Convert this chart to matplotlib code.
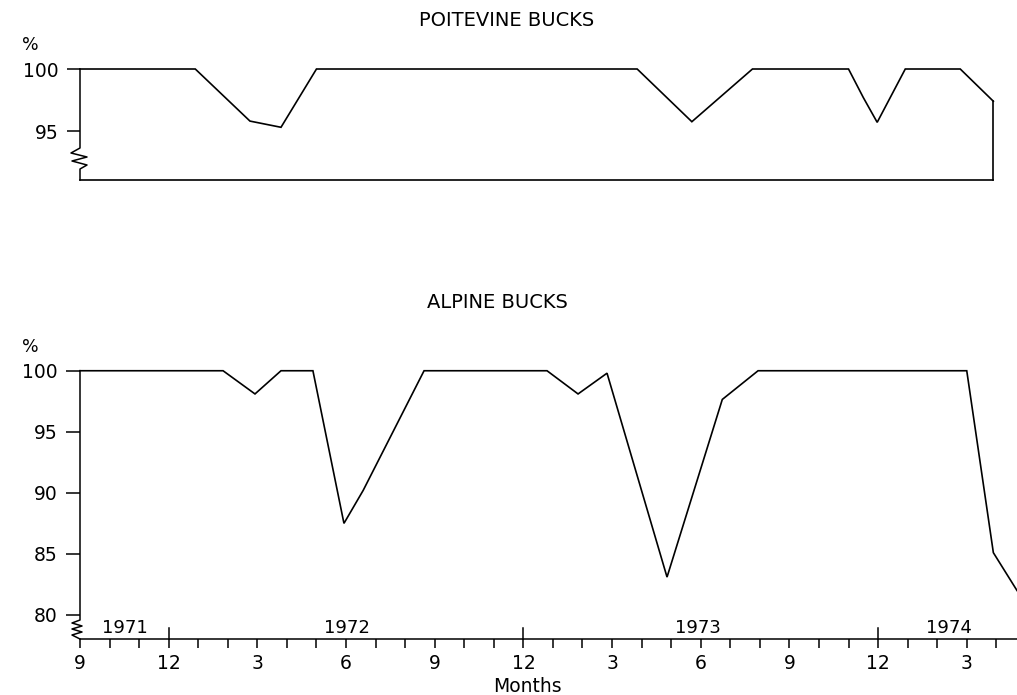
import matplotlib
matplotlib.use("Agg")
import matplotlib.pyplot as plt
import matplotlib.transforms as mtransforms

plt.rcParams['font.family'] = ['DejaVu Sans']

# ---------------- data (months counted from September 1971) ----------------
poitevine_months = [0, 3.9, 5.75, 6.8, 8.0, 18.85, 20.7, 22.75, 26.0, 26.5, 26.97, 27.92, 29.78, 30.9]
poitevine_values = [100, 100, 95.8, 95.3, 100, 100, 95.75, 100, 100, 97.7, 95.7, 100, 100, 97.4]

alpine_months = [0, 4.84, 5.92, 6.8, 7.88, 8.93, 9.58, 11.64, 15.8, 16.85, 17.83, 19.86, 21.73, 22.94, 30.0, 30.9, 31.7]
alpine_values = [100, 100, 98.1, 100, 100, 87.5, 90.2, 100, 100, 98.1, 99.8, 83.1, 97.65, 100, 100, 85.1, 82.0]

month_tick_labels = ['9', '12', '3', '6', '9', '12', '3', '6', '9', '12', '3']
year_labels = ['1971', '1972', '1973', '1974']
year_label_pos = [1.52, 9.04, 20.9, 29.4]

top_yticks = [95, 100]
bottom_yticks = [80, 85, 90, 95, 100]

W, H = 1017, 695
fig = plt.figure(figsize=(W / 100, H / 100), dpi=100)

XMAX = 31.7
LW = 1.2
TICKFS = 13.5


def frac_box(x0, y0, x1, y1):
    """pixel box (top-left origin) -> figure fraction rect"""
    return [x0 / W, (H - y1) / H, (x1 - x0) / W, (y1 - y0) / H]


def px_to_data(ax, pts):
    inv = ax.transData.inverted()
    disp = [(x, H - y) for x, y in pts]
    return inv.transform(disp)


# ---------------- top: Poitevine ----------------
ax1 = fig.add_axes(frac_box(80, 60, W, 180))
ax1.set_xlim(0, XMAX)
ax1.set_ylim(91.05, 100.726)
for s in ax1.spines.values():
    s.set_visible(False)
ax1.set_xticks([])
ax1.set_yticks(top_yticks)
ax1.set_yticklabels([str(v) for v in top_yticks], fontsize=TICKFS)
ax1.tick_params(axis='y', direction='out', length=9.5, width=1.1, pad=6)

ax1.plot(poitevine_months, poitevine_values, color='black', lw=LW, clip_on=False,
         solid_joinstyle='miter')
ymin1 = ax1.get_ylim()[0]
# right closing edge and bottom line
ax1.plot([poitevine_months[-1], poitevine_months[-1]], [poitevine_values[-1], ymin1],
         color='black', lw=LW, clip_on=False)
ax1.plot([0, poitevine_months[-1]], [ymin1, ymin1], color='black', lw=LW, clip_on=False)
# left axis with break marker
zz_top = [(80, 69), (80, 148), (71, 153), (87, 157), (72, 161), (87, 165), (80, 169), (80, 180)]
d = px_to_data(ax1, zz_top)
ax1.plot(d[:, 0], d[:, 1], color='black', lw=1.1, clip_on=False)

fig.text(507 / W, 1 - 21 / H, 'POITEVINE BUCKS', ha='center', va='center', fontsize=14)
fig.text(30 / W, 1 - 45 / H, '%', ha='center', va='center', fontsize=12.5)

# ---------------- bottom: Alpine ----------------
ax2 = fig.add_axes(frac_box(80, 360, W, 639))
ax2.set_xlim(0, XMAX)
ax2.set_ylim(78.03, 100.88)
for k in ('top', 'right', 'left'):
    ax2.spines[k].set_visible(False)
ax2.spines['bottom'].set_linewidth(1.1)
ax2.set_yticks(bottom_yticks)
ax2.set_yticklabels([str(v) for v in bottom_yticks], fontsize=TICKFS)
ax2.tick_params(axis='y', direction='out', length=10, width=1.1, pad=6)

major_pos = list(range(0, 31, 3))
ax2.set_xticks(major_pos)
ax2.set_xticklabels(month_tick_labels, fontsize=TICKFS)
ax2.set_xticks(list(range(0, 32)), minor=True)
ax2.tick_params(axis='x', which='both', direction='out', length=6.5, width=1.1, pad=4)

ax2.plot(alpine_months, alpine_values, color='black', lw=LW, clip_on=False,
         solid_joinstyle='miter')

# upward ticks at December
trans = mtransforms.blended_transform_factory(ax2.transData, ax2.transAxes)
for m in range(3, 32, 12):
    ax2.plot([m, m], [0, 0.04], color='black', lw=1.1, transform=trans, clip_on=False)

# left axis with break marker
zz_bot = [(80, 370.7), (80, 620), (72, 623), (82, 626), (72, 629), (82, 632), (72, 635), (80, 639)]
d = px_to_data(ax2, zz_bot)
ax2.plot(d[:, 0], d[:, 1], color='black', lw=1.1, clip_on=False)

for lab, pos in zip(year_labels, year_label_pos):
    ax2.text(pos, 78.9, lab, ha='center', va='center', fontsize=13)

fig.text(497 / W, 1 - 303 / H, 'ALPINE BUCKS', ha='center', va='center', fontsize=14)
fig.text(30 / W, 1 - 347 / H, '%', ha='center', va='center', fontsize=12.5)
fig.text(527 / W, 1 - 686 / H, 'Months', ha='center', va='center', fontsize=13.5)

fig.savefig('out.png', dpi=100)
